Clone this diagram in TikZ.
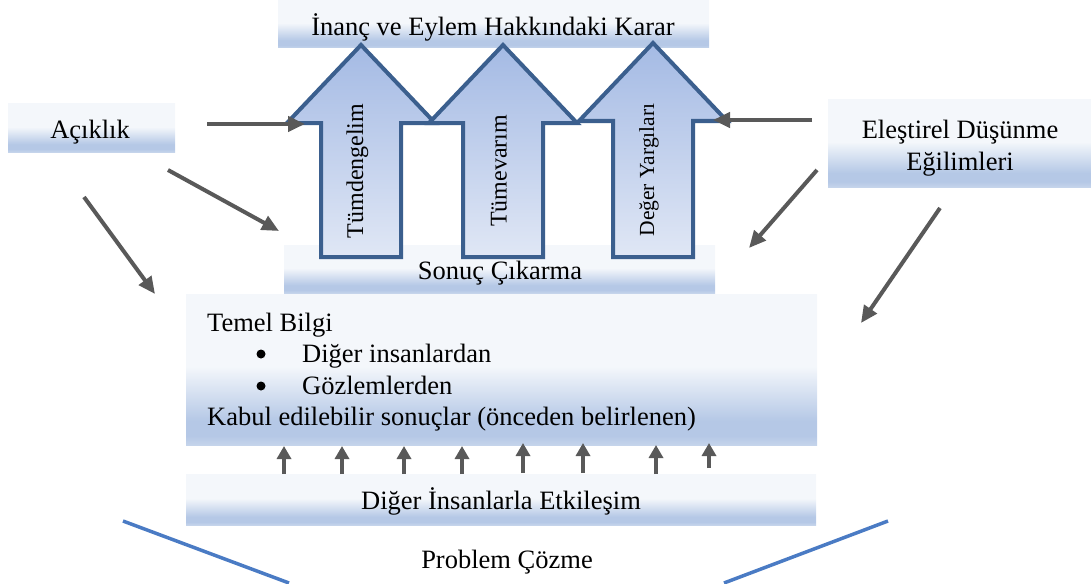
\documentclass[tikz,border=0pt]{standalone}
\usepackage{fontspec}
\setmainfont{Liberation Serif}
\usetikzlibrary{arrows.meta}

\definecolor{bxlight}{HTML}{F4F7FB}
\definecolor{bxblue}{HTML}{B5C8E6}
\definecolor{bxbot}{HTML}{C5D4EB}
\definecolor{arrowedge}{HTML}{3B5F8E}
\definecolor{arrowtop}{HTML}{A4BAE4}
\definecolor{arrowbot}{HTML}{E0E7F5}
\definecolor{linkgray}{HTML}{595959}
\definecolor{psline}{HTML}{4A7BC4}

% pale panel that turns blue towards its lower edge
\pgfdeclareverticalshading{boxshade}{100bp}{color(0bp)=(bxbot); color(25bp)=(bxbot); color(28bp)=(bxblue); color(33bp)=(bxblue); color(51bp)=(bxlight); color(100bp)=(bxlight)}

\begin{document}
\begin{tikzpicture}[x=1pt,y=-1pt,
  panel/.style={rectangle, shading=boxshade, draw=none, inner sep=0pt, outer sep=0pt},
  lbl/.style={inner sep=0pt, anchor=base, font=\fontsize{26.5}{30}\selectfont},
  lblw/.style={lbl, anchor=base west},
  dot/.style={circle, fill=black, draw=none, inner sep=0pt, minimum size=9pt},
  vlbl/.style={inner sep=0pt, rotate=90, anchor=center, font=\fontsize{24}{28}\selectfont},
  bigarrow/.style={draw=arrowedge, line width=4pt, line join=miter, top color=arrowtop, bottom color=arrowbot},
  link/.style={draw=linkgray, line width=4pt, -{Triangle[length=17pt,width=15pt]}},
  push/.style={draw=linkgray, line width=3.5pt, -{Triangle[length=13pt,width=14pt]}},
  frame/.style={draw=psline, line width=3.5pt}]

\useasboundingbox (0,0) rectangle (1091,583);

% panels
\node[panel, minimum width=431pt, minimum height=48pt] (karar) at (493.5,24) {};
\node[panel, minimum width=167pt, minimum height=48pt] (acik) at (91.5,128) {};
\node[panel, minimum width=263pt, minimum height=87pt] (elest) at (959.5,143.5) {};
\node[panel, minimum width=431pt, minimum height=48pt] (sonuc) at (499.5,269) {};
\node[panel, minimum width=631pt, minimum height=151pt] (temel) at (501.5,369.5) {};
\node[panel, minimum width=630pt, minimum height=51pt] (etkil) at (501,499.5) {};

% panel texts
\node[lbl] (kararT) at (493,36) {İnanç ve Eylem Hakkındaki Karar};
\node[lbl] (acikT) at (90,139) {Açıklık};
\node[lbl] (elestT1) at (960,139) {Eleştirel Düşünme};
\node[lbl] (elestT2) at (960,170) {Eğilimleri};
\node[lbl] (sonucT) at (500,279) {Sonuç Çıkarma};
\node[lblw] (temelT) at (207,331) {Temel Bilgi};
\node[dot] (bulA) at (261,354) {};
\node[lblw] (temelA) at (302,362) {Diğer insanlardan};
\node[dot] (bulB) at (261,386) {};
\node[lblw] (temelB) at (302,394) {Gözlemlerden};
\node[lblw] (temelC) at (207,425) {Kabul edilebilir sonuçlar (önceden belirlenen)};
\node[lbl] (etkilT) at (501,509) {Diğer İnsanlarla Etkileşim};
\node[lbl] (probT) at (507,568) {Problem Çözme};

% three block arrows
\draw[bigarrow] (321,257) -- (321,123) -- (287,123) -- (361,45) -- (435,123) -- (401,123) -- (401,257) -- cycle;
\draw[bigarrow] (463,257) -- (463,123) -- (429,123) -- (503,45) -- (577,123) -- (543,123) -- (543,257) -- cycle;
\draw[bigarrow] (613,257) -- (613,121) -- (579,121) -- (653,43) -- (727,121) -- (693,121) -- (693,257) -- cycle;

\node[vlbl] (tumden) at (357.5,171) {Tümdengelim};
\node[vlbl] (tumeva) at (499,171) {Tümevarım};
\node[vlbl, font=\fontsize{21.5}{25}\selectfont] (deger) at (649,170) {Değer Yargıları};

% grey influence arrows
\coordinate (acikA) at (207,124);   \coordinate (tumdenIn) at (305,124);
\coordinate (acikB) at (168,170);   \coordinate (sonucInL) at (279,231);
\coordinate (acikC) at (84,197);    \coordinate (temelInL) at (155,294);
\coordinate (elestA) at (812,120);  \coordinate (degerIn) at (713,120);
\coordinate (elestB) at (817,170);  \coordinate (sonucInR) at (749,248);
\coordinate (elestC) at (940,208);  \coordinate (temelInR) at (861,323);
\draw[link] (acikA) -- (tumdenIn);
\draw[link] (acikB) -- (sonucInL);
\draw[link] (acikC) -- (temelInL);
\draw[link] (elestA) -- (degerIn);
\draw[link] (elestB) -- (sonucInR);
\draw[link] (elestC) -- (temelInR);

% short arrows from interaction up to basic knowledge
\foreach \i/\x/\yb/\yt in {1/284/474/446, 2/342/474/446, 3/404/474/446, 4/462/474/446,
                           5/523/473/443, 6/583/473/443, 7/656/474/445, 8/709/468/443} {
  \coordinate (pb\i) at (\x,\yb);
  \coordinate (pt\i) at (\x,\yt);
  \draw[push] (pb\i) -- (pt\i);
}

% problem solving frame lines
\coordinate (psL1) at (123,521); \coordinate (psL2) at (289,583);
\coordinate (psR1) at (888,521); \coordinate (psR2) at (724,583);
\draw[frame] (psL1) -- (psL2);
\draw[frame] (psR1) -- (psR2);

\end{tikzpicture}
\end{document}
